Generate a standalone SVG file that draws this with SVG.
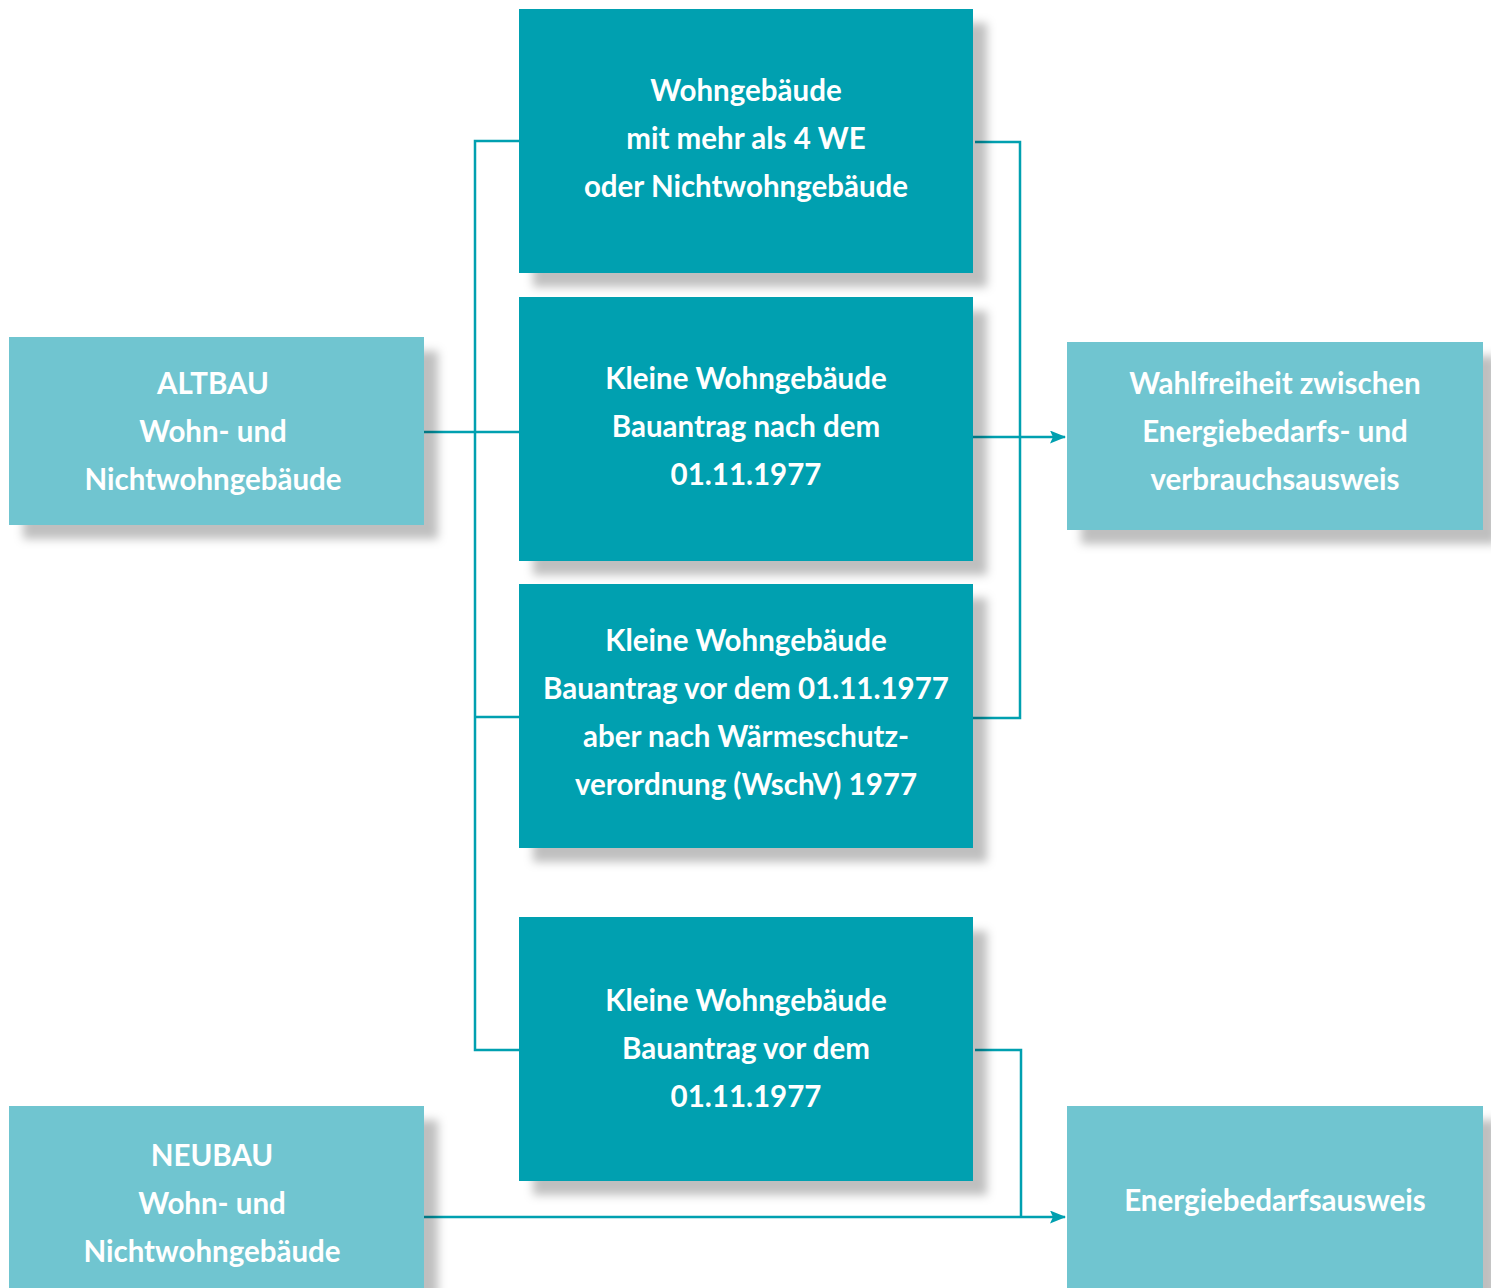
<svg xmlns="http://www.w3.org/2000/svg" width="1491" height="1288" viewBox="0 0 1491 1288">
<style>
.dark{fill:#00A0B0}
.light{fill:#70C5D0}
.t{font-family:Lato,"Open Sans",sans-serif;font-weight:bold;font-size:29.5px;fill:#fff;text-anchor:middle}
.c{stroke:#00A0B0;stroke-width:2.5;fill:none}
</style>
<defs>
<filter id="sh" x="-10%" y="-10%" width="130%" height="130%">
<feDropShadow dx="14" dy="14" stdDeviation="5" flood-color="#000" flood-opacity="0.25"/>
</filter>
<marker id="ar" markerWidth="16" markerHeight="13" refX="15" refY="6.5" orient="auto" markerUnits="userSpaceOnUse">
<path d="M0,0 L16,6.5 L0,13 L3,6.5 Z" fill="#00A0B0"/>
</marker>
</defs>
<rect width="1491" height="1288" fill="#fff"/>
<g id="connectors">
<polyline class="c" points="519,141 475,141 475,1050 519,1050"/>
<line class="c" x1="424" y1="432" x2="519" y2="432"/>
<line class="c" x1="475" y1="717" x2="519" y2="717"/>
<polyline class="c" points="975,142 1020,142 1020,718 973,718"/>
<line class="c" x1="973" y1="437" x2="1065" y2="437" marker-end="url(#ar)"/>
<polyline class="c" points="975,1050 1021,1050 1021,1217"/>
<line class="c" x1="424" y1="1217" x2="1065" y2="1217" marker-end="url(#ar)"/>
</g>
<g id="n1"><rect class="dark" x="519" y="9" width="454" height="264" filter="url(#sh)"/>
<text class="t" x="746" y="101">Wohngebäude</text><text class="t" x="746" y="149">mit mehr als 4 WE</text><text class="t" x="746" y="197">oder Nichtwohngebäude</text></g>
<g id="n2"><rect class="dark" x="519" y="297" width="454" height="264" filter="url(#sh)"/>
<text class="t" x="746" y="389">Kleine Wohngebäude</text><text class="t" x="746" y="437">Bauantrag nach dem</text><text class="t" x="746" y="485">01.11.1977</text></g>
<g id="n3"><rect class="dark" x="519" y="584" width="454" height="264" filter="url(#sh)"/>
<text class="t" x="746" y="651">Kleine Wohngebäude</text><text class="t" x="746" y="699">Bauantrag vor dem 01.11.1977</text><text class="t" x="746" y="747">aber nach Wärmeschutz-</text><text class="t" x="746" y="795">verordnung (WschV) 1977</text></g>
<g id="n4"><rect class="dark" x="519" y="917" width="454" height="264" filter="url(#sh)"/>
<text class="t" x="746" y="1011">Kleine Wohngebäude</text><text class="t" x="746" y="1059">Bauantrag vor dem</text><text class="t" x="746" y="1107">01.11.1977</text></g>
<g id="altbau"><rect class="light" x="9" y="337" width="415" height="188" filter="url(#sh)"/>
<text class="t" x="213" y="394">ALTBAU</text><text class="t" x="213" y="442">Wohn- und</text><text class="t" x="213" y="490">Nichtwohngebäude</text></g>
<g id="neubau"><rect class="light" x="9" y="1106" width="415" height="200" filter="url(#sh)"/>
<text class="t" x="212" y="1166">NEUBAU</text><text class="t" x="212" y="1214">Wohn- und</text><text class="t" x="212" y="1262">Nichtwohngebäude</text></g>
<g id="wahl"><rect class="light" x="1067" y="342" width="416" height="188" filter="url(#sh)"/>
<text class="t" x="1275" y="394">Wahlfreiheit zwischen</text><text class="t" x="1275" y="442">Energiebedarfs- und</text><text class="t" x="1275" y="490">verbrauchsausweis</text></g>
<g id="bedarf"><rect class="light" x="1067" y="1106" width="416" height="200" filter="url(#sh)"/>
<text class="t" x="1275" y="1211">Energiebedarfsausweis</text></g>
</svg>
